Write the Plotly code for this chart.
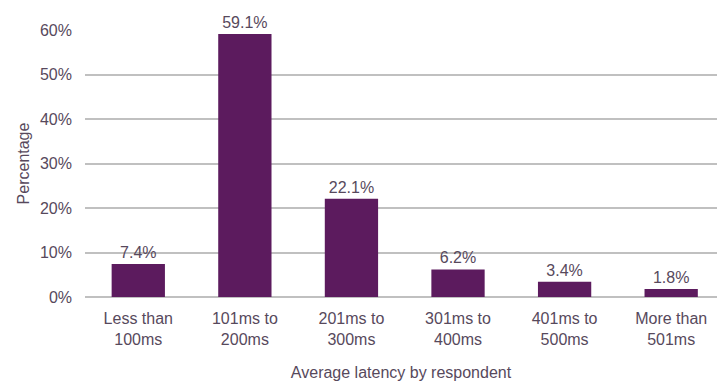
import plotly.graph_objects as go

categories = ["Less than<br>100ms", "101ms to<br>200ms", "201ms to<br>300ms",
              "301ms to<br>400ms", "401ms to<br>500ms", "More than<br>501ms"]
values = [0.074, 0.591, 0.221, 0.062, 0.034, 0.018]
labels = ["7.4%", "59.1%", "22.1%", "6.2%", "3.4%", "1.8%"]

grey = "#57495C"
font = "Liberation Sans, Arial, sans-serif"
fs = 16

fig = go.Figure(go.Bar(
    x=list(range(len(categories))), y=values,
    marker=dict(color="#5C1B5E", line=dict(width=0)),
    width=0.5,
    text=labels, textposition="outside", cliponaxis=False,
    textfont=dict(size=fs, color=grey, family=font),
))

fig.update_layout(
    width=717, height=381,
    margin=dict(l=85, r=0, t=30, b=84),
    plot_bgcolor="white", paper_bgcolor="white",
    showlegend=False,
    font=dict(family=font, color=grey, size=fs),
    xaxis=dict(
        tickmode="array", tickvals=list(range(len(categories))), ticktext=categories,
        range=[-0.5, 5.43], showgrid=False, showline=False, zeroline=False,
        tickfont=dict(size=fs, color=grey), ticks="", ticklabelstandoff=10,
        title=dict(text="Average latency by respondent", font=dict(size=fs, color=grey), standoff=22),
    ),
    yaxis=dict(
        range=[0, 0.6], tickvals=[0, 0.1, 0.2, 0.3, 0.4, 0.5, 0.6],
        tickformat=".0%", showgrid=True, gridcolor="#C0C0C0", gridwidth=1.5,
        zeroline=True, zerolinecolor="#C0C0C0", zerolinewidth=1.5,
        tickfont=dict(size=fs, color=grey), ticks="", ticklabelstandoff=12,
        title=dict(text="Percentage", font=dict(size=fs, color=grey), standoff=6),
    ),
    bargap=0.5,
)

fig.write_html("out.html")
